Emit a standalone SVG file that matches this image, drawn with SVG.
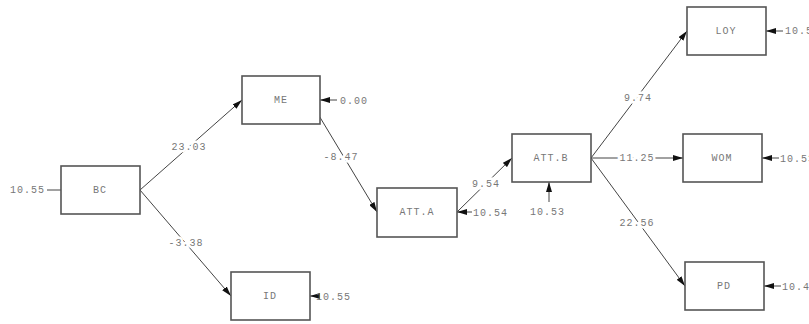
<svg xmlns="http://www.w3.org/2000/svg" width="809" height="324" viewBox="0 0 809 324">
<style>
.box{fill:#fff;stroke:#555;stroke-width:1.6}
.lbl{font-family:"Liberation Mono",monospace;font-size:10px;letter-spacing:1px;fill:#777;text-anchor:middle;dominant-baseline:central}
.el{font-family:"Liberation Mono",monospace;font-size:10px;letter-spacing:1px;fill:#777;dominant-baseline:central}
.cl{font-family:"Liberation Mono",monospace;font-size:10px;letter-spacing:1px;fill:#777;text-anchor:middle;dominant-baseline:central;stroke:#fff;stroke-width:5;paint-order:stroke}
.ln{stroke:#444;stroke-width:1;fill:none}
.ar{marker-end:url(#ah)}
</style>
<defs>
<marker id="ah" viewBox="0 0 10 6" refX="10" refY="3" markerWidth="10" markerHeight="6" markerUnits="userSpaceOnUse" orient="auto">
<path d="M0,0 L10,3 L0,6 Z" fill="#111"/>
</marker>
</defs>
<rect width="809" height="324" fill="#fff"/>
<g id="connectors">
<line class="ln" x1="47" y1="190" x2="61" y2="190"/>
<line class="ln ar" x1="140" y1="190" x2="242" y2="100"/>
<line class="ln ar" x1="140" y1="190" x2="231" y2="296"/>
<line class="ln ar" x1="337" y1="100" x2="320" y2="100"/>
<line class="ln ar" x1="318" y1="296" x2="310" y2="296"/>
<line class="ln ar" x1="472" y1="212" x2="457" y2="212"/>
<line class="ln ar" x1="318" y1="114" x2="377" y2="212"/>
<line class="ln ar" x1="457" y1="212" x2="512" y2="158"/>
<line class="ln ar" x1="549" y1="202" x2="549" y2="182"/>
<line class="ln ar" x1="591" y1="158" x2="687" y2="31"/>
<line class="ln ar" x1="591" y1="158" x2="683" y2="158"/>
<line class="ln ar" x1="591" y1="158" x2="685" y2="286"/>
<line class="ln ar" x1="783" y1="31" x2="766" y2="31"/>
<line class="ln ar" x1="779" y1="158" x2="762" y2="158"/>
<line class="ln ar" x1="781" y1="286" x2="764" y2="286"/>
<text class="cl" x="189" y="147">23.03</text>
<text class="cl" x="186" y="243">-3.38</text>
<text class="cl" x="341" y="157">-8.47</text>
<text class="cl" x="486" y="184">9.54</text>
<text class="cl" x="638" y="98">9.74</text>
<text class="cl" x="637" y="158">11.25</text>
<text class="cl" x="637" y="223">22.56</text>
<text class="el" x="10" y="190">10.55</text>
<text class="el" x="340" y="101">0.00</text>
<text class="el" x="316" y="297">10.55</text>
<text class="el" x="473" y="213">10.54</text>
<text class="el" x="530" y="212">10.53</text>
<text class="el" x="785" y="31">10.5</text>
<text class="el" x="780" y="159">10.53</text>
<text class="el" x="782" y="287">10.4</text>
</g>
<g id="BC"><rect class="box" x="61" y="166" width="79" height="48"/><text class="lbl" x="100" y="190">BC</text></g>
<g id="ME"><rect class="box" x="242" y="76" width="78" height="48"/><text class="lbl" x="281" y="100">ME</text></g>
<g id="ID"><rect class="box" x="231" y="272" width="79" height="48"/><text class="lbl" x="270" y="296">ID</text></g>
<g id="ATTA"><rect class="box" x="377" y="188" width="80" height="49"/><text class="lbl" x="417" y="212">ATT.A</text></g>
<g id="ATTB"><rect class="box" x="512" y="134" width="79" height="48"/><text class="lbl" x="551" y="158">ATT.B</text></g>
<g id="LOY"><rect class="box" x="687" y="7" width="79" height="48"/><text class="lbl" x="726" y="31">LOY</text></g>
<g id="WOM"><rect class="box" x="683" y="134" width="79" height="48"/><text class="lbl" x="722" y="158">WOM</text></g>
<g id="PD"><rect class="box" x="685" y="262" width="79" height="48"/><text class="lbl" x="724" y="286">PD</text></g>
</svg>
